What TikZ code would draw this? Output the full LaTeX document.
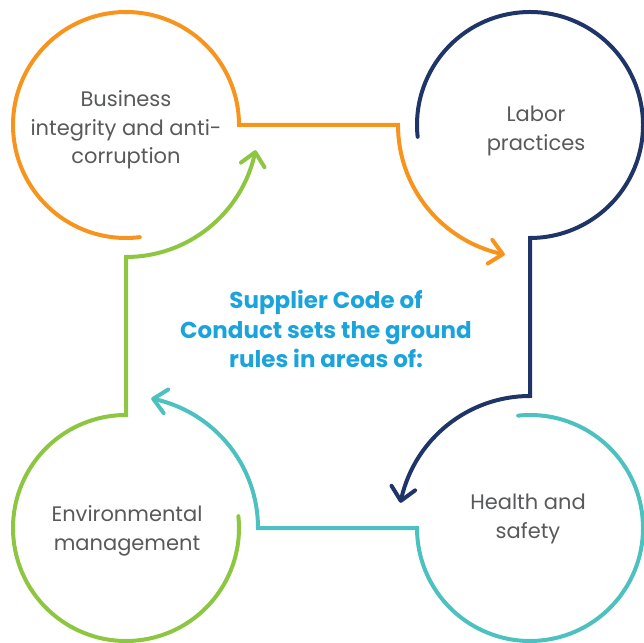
\documentclass[tikz,border=0pt]{standalone}
\usepackage{fontspec}
\setmainfont{Poppins}
\usetikzlibrary{positioning}
\usetikzlibrary{arrows.meta,bending}
\definecolor{bizorange}{HTML}{F7941D}
\definecolor{labornavy}{HTML}{1F3567}
\definecolor{safetyteal}{HTML}{4CC1C0}
\definecolor{envgreen}{HTML}{8DC641}
\definecolor{labelgray}{HTML}{58595B}
\definecolor{titleblue}{HTML}{1BA3DC}

\begin{document}
\begin{tikzpicture}[x=1pt,y=1pt,
  loop/.style={line width=4pt, line cap=round, line join=miter},
  tip/.style={-{Straight Barb[length=13pt,width=24pt,round]}},
  area/.style={align=center, text=labelgray, font=\fontsize{21}{28.5}\selectfont},
  ]
\useasboundingbox (0,0) rectangle (644,642);

% centres of the four rings
\coordinate (biz) at (126,517);
\coordinate (labor) at (530,517);
\coordinate (safety) at (530,114);
\coordinate (env) at (126,114);

\node[area] (biztext) at ([yshift=-5]biz) {Business\\integrity and anti-\\corruption};
\node[area] (labortext) at ([xshift=6,yshift=-6]labor) {Labor\\practices};
\node[area] (safetytext) at ([xshift=-2,yshift=9]safety) {Health and\\safety};
\node[area] (envtext) at ([xshift=1,yshift=-3]env) {Environmental\\management};

\node[align=center, text=titleblue, font=\fontsize{23}{29.5}\selectfont\bfseries] (title) at (326,313)
  {Supplier Code of\\Conduct sets the ground\\rules in areas of:};

% each ring runs on into an arrow round the next one
\draw[loop, bizorange, tip] ([shift={(277:113)}]biz) arc[start angle=277, end angle=0, radius=113]
  -- ([shift={(180:132)}]labor) arc[start angle=180, end angle=259, radius=132];
\draw[loop, labornavy, tip] ([shift={(186:113)}]labor) arc[start angle=186, end angle=-90, radius=113]
  -- ([shift={(90:132)}]safety) arc[start angle=90, end angle=169, radius=132];
\draw[loop, safetyteal, tip] ([shift={(96:113)}]safety) arc[start angle=96, end angle=-180, radius=113]
  -- ([shift={(0:132)}]env) arc[start angle=0, end angle=79, radius=132];
\draw[loop, envgreen, tip] ([shift={(6:113)}]env) arc[start angle=6, end angle=-270, radius=113]
  -- ([shift={(270:132)}]biz) arc[start angle=270, end angle=349, radius=132];
\end{tikzpicture}
\end{document}
